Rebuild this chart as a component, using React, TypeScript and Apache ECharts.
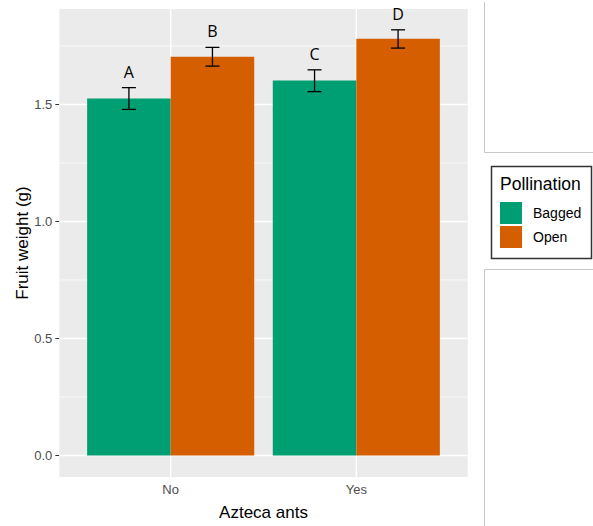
import React, { useEffect, useRef } from "react";
import * as echarts from "echarts";

const categories = ["No", "Yes"];
const seriesNames = ["Bagged", "Open"];
const baggedMean = [1.526, 1.602];
const openMean = [1.704, 1.781];
const baggedLow = [1.479, 1.555];
const baggedHigh = [1.572, 1.648];
const openLow = [1.664, 1.741];
const openHigh = [1.744, 1.819];
const baggedLetters = ["A", "C"];
const openLetters = ["B", "D"];
const yTicks = [0, 0.5, 1.0, 1.5];
const yMinorGrid = [0.25, 0.75, 1.25, 1.75];
const xTicks = [1, 2];

const COLORS = ["#009E73", "#D55E00"];
const X_MIN = 0.4;
const X_MAX = 2.6;
const Y_MIN = -0.092;
const Y_MAX = 1.908;
const BAR_W = 0.45;
const FONT = "'Liberation Sans', Arial, Helvetica, sans-serif";

export default function App() {
  const ref = useRef<HTMLDivElement>(null);
  useEffect(() => {
    if (!ref.current) return;
    const chart = echarts.init(ref.current, null, { renderer: "svg" });

    const barRender = (side: number) => (params: any, api: any) => {
      const x = api.value(0);
      const v = api.value(1);
      const left = side === 0 ? x - BAR_W : x;
      const p0 = api.coord([left, v]);
      const p1 = api.coord([left + BAR_W, 0]);
      return {
        type: "rect",
        shape: { x: p0[0], y: p0[1], width: p1[0] - p0[0], height: p1[1] - p0[1] },
        style: { fill: COLORS[side] },
      };
    };

    const errRender = (letters: string[]) => (params: any, api: any) => {
      const x = api.value(0);
      const lo = api.coord([x, api.value(1)]);
      const hi = api.coord([x, api.value(2)]);
      const cap = 7;
      const st = { stroke: "#000", lineWidth: 1.3 };
      return {
        type: "group",
        children: [
          { type: "line", shape: { x1: lo[0], y1: lo[1], x2: hi[0], y2: hi[1] }, style: st },
          { type: "line", shape: { x1: lo[0] - cap, y1: lo[1], x2: lo[0] + cap, y2: lo[1] }, style: st },
          { type: "line", shape: { x1: hi[0] - cap, y1: hi[1], x2: hi[0] + cap, y2: hi[1] }, style: st },
          {
            type: "text",
            x: hi[0],
            y: hi[1] - 16,
            style: {
              text: letters[params.dataIndex],
              fill: "#000",
              font: "16px 'Open Sans', sans-serif",
              align: "center",
              verticalAlign: "middle",
            },
          },
        ],
      };
    };

    const hGridRender = (width: number) => (params: any, api: any) => {
      const y = api.value(1);
      const a = api.coord([X_MIN, y]);
      const b = api.coord([X_MAX, y]);
      return {
        type: "line",
        shape: { x1: a[0], y1: a[1], x2: b[0], y2: b[1] },
        style: { stroke: "#FFFFFF", lineWidth: width },
        silent: true,
      };
    };
    const vGridRender = (params: any, api: any) => {
      const x = api.value(0);
      const a = api.coord([x, Y_MIN]);
      const b = api.coord([x, Y_MAX]);
      return {
        type: "line",
        shape: { x1: a[0], y1: a[1], x2: b[0], y2: b[1] },
        style: { stroke: "#FFFFFF", lineWidth: 1.4 },
        silent: true,
      };
    };

    chart.setOption({
      animation: false,
      grid: {
        left: 59.3,
        top: 9,
        right: 125.3,
        bottom: 46,
        show: true,
        backgroundColor: "#EBEBEB",
        borderWidth: 0,
      },
      xAxis: {
        type: "value",
        min: X_MIN,
        max: X_MAX,
        name: "Azteca ants",
        nameLocation: "middle",
        nameGap: 27,
        nameMoveOverlap: false,
        nameTextStyle: { fontFamily: FONT, fontSize: 17, color: "#000" },
        axisLine: { show: false },
        axisTick: { show: true, customValues: xTicks, length: 4, lineStyle: { color: "#333", width: 1 } },
        axisLabel: {
          customValues: xTicks,
          formatter: (v: number) => categories[Math.round(v) - 1] ?? "",
          fontFamily: FONT,
          fontSize: 13,
          color: "#4D4D4D",
          margin: 6,
        },
        splitLine: { show: false },
      },
      yAxis: {
        type: "value",
        min: Y_MIN,
        max: Y_MAX,
        name: "Fruit weight (g)",
        nameLocation: "middle",
        nameGap: 28,
        nameMoveOverlap: false,
        nameTextStyle: { fontFamily: FONT, fontSize: 17, color: "#000" },
        axisLine: { show: false },
        axisTick: { show: true, customValues: yTicks, length: 4, lineStyle: { color: "#333", width: 1 } },
        axisLabel: {
          customValues: yTicks,
          formatter: (v: number) => v.toFixed(1),
          fontFamily: FONT,
          fontSize: 13,
          color: "#4D4D4D",
          margin: 7,
        },
        splitLine: { show: false },
      },
      legend: {
        data: seriesNames,
        orient: "vertical",
        left: 500,
        top: 202,
        padding: 0,
        itemWidth: 22,
        itemHeight: 22,
        itemGap: 2,
        icon: "rect",
        textStyle: { fontFamily: FONT, fontSize: 14, color: "#000", padding: [0, 0, 0, 6] },
        selectedMode: false,
      },
      graphic: [
        { type: "rect", shape: { x: 491.5, y: 166.5, width: 100, height: 92 }, style: { fill: "none", stroke: "#333", lineWidth: 1.5 } },
        { type: "text", x: 500, y: 184, style: { text: "Pollination", font: "17.5px " + FONT, fill: "#000", verticalAlign: "middle" } },
        { type: "polyline", shape: { points: [[484.5, 2], [484.5, 152.5], [593, 152.5]] }, style: { fill: "none", stroke: "#C8C8C8", lineWidth: 1 } },
        { type: "polyline", shape: { points: [[593, 269.5], [484.5, 269.5], [484.5, 526]] }, style: { fill: "none", stroke: "#C8C8C8", lineWidth: 1 } },
      ],
      series: [
        { type: "custom", name: "minorGrid", renderItem: hGridRender(0.7), data: yMinorGrid.map((v) => [1, v]), silent: true, z: 1 },
        { type: "custom", name: "majorGrid", renderItem: hGridRender(1.4), data: yTicks.map((v) => [1, v]), silent: true, z: 1 },
        { type: "custom", name: "vGrid", renderItem: vGridRender, data: xTicks.map((v) => [v, 0]), silent: true, z: 1 },
        {
          type: "custom",
          name: "Bagged",
          itemStyle: { color: COLORS[0] },
          renderItem: barRender(0),
          data: baggedMean.map((v, i) => [i + 1, v]),
          z: 2,
        },
        {
          type: "custom",
          name: "Open",
          itemStyle: { color: COLORS[1] },
          renderItem: barRender(1),
          data: openMean.map((v, i) => [i + 1, v]),
          z: 2,
        },
        {
          type: "custom",
          name: "baggedErr",
          renderItem: errRender(baggedLetters),
          data: baggedLow.map((lo, i) => [i + 1 - BAR_W / 2, lo, baggedHigh[i]]),
          z: 3,
        },
        {
          type: "custom",
          name: "openErr",
          renderItem: errRender(openLetters),
          data: openLow.map((lo, i) => [i + 1 + BAR_W / 2, lo, openHigh[i]]),
          z: 3,
        },
      ],
    });
    return () => chart.dispose();
  }, []);

  return (
    <div
      ref={ref}
      style={{ position: "fixed", left: 0, top: 0, width: 593, height: 526, background: "#fff" }}
    />
  );
}
